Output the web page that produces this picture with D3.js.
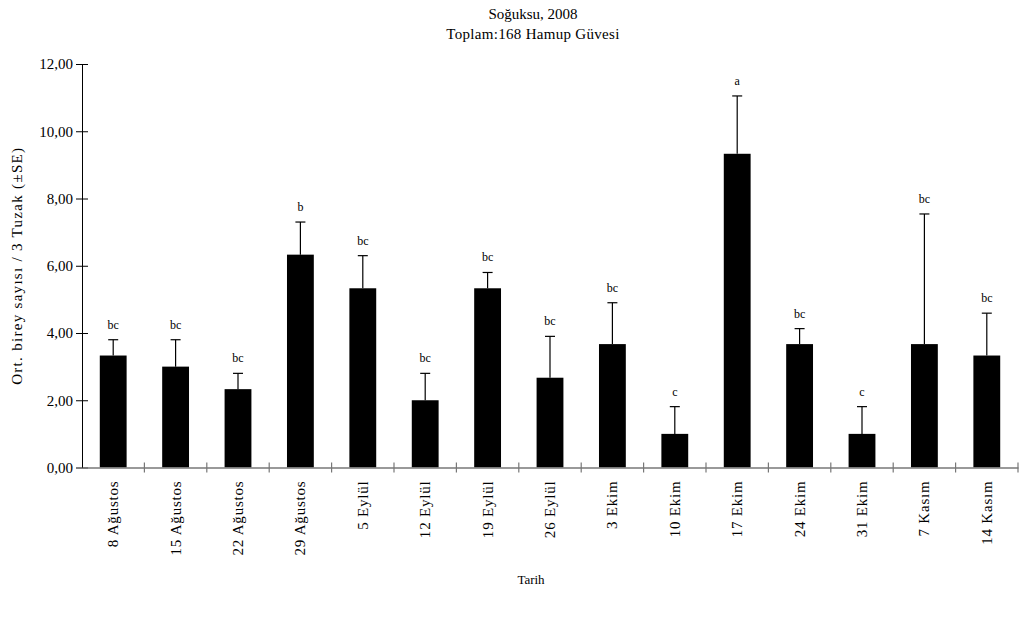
<!DOCTYPE html>
<html>
<head>
<meta charset="utf-8">
<script src="https://cdn.jsdelivr.net/npm/d3@7"></script>
<style>
  html, body { margin: 0; padding: 0; background: #fff; }
  svg text { font-family: "Liberation Serif", "Times New Roman", serif; fill: #000; }
</style>
</head>
<body>
<svg id="chart" width="1023" height="622"></svg>
<script>
// Sampling dates (weekly trap checks)
const dates = ["8 Ağustos", "15 Ağustos", "22 Ağustos", "29 Ağustos", "5 Eylül", "12 Eylül",
  "19 Eylül", "26 Eylül", "3 Ekim", "10 Ekim", "17 Ekim", "24 Ekim", "31 Ekim", "7 Kasım", "14 Kasım"];
// Mean individuals per 3 traps
const means = [3.33, 3.00, 2.33, 6.33, 5.33, 2.00, 5.33, 2.67, 3.67, 1.00, 9.33, 3.67, 1.00, 3.67, 3.33];
// Standard error
const se = [0.47, 0.80, 0.47, 0.97, 0.97, 0.80, 0.47, 1.23, 1.23, 0.81, 1.72, 0.46, 0.81, 3.87, 1.26];
// Significance groups
const groups = ["bc", "bc", "bc", "b", "bc", "bc", "bc", "bc", "bc", "c", "a", "bc", "c", "bc", "bc"];
const yTicks = [0, 2, 4, 6, 8, 10, 12];

const svg = d3.select("#chart");
const m = { left: 82, right: 1018, top: 64, bottom: 467.5 };

const x = d3.scaleBand().domain(dates).range([m.left, m.right]).paddingInner(0.57).paddingOuter(0.285);
const xb = d3.scaleBand().domain(dates).range([m.left, m.right]).padding(0);
const y = d3.scaleLinear().domain([0, 12]).range([m.bottom, m.top]);

const fmt = d => d.toFixed(2).replace(".", ",");

// Bars
svg.append("g").selectAll("rect").data(dates).join("rect")
  .attr("x", d => x(d))
  .attr("width", x.bandwidth())
  .attr("y", (d, i) => y(means[i]))
  .attr("height", (d, i) => y(0) - y(means[i]))
  .attr("fill", "#000");

// Error bars (upper only)
const eb = svg.append("g").attr("stroke", "#000").attr("stroke-width", 1.2);
dates.forEach((d, i) => {
  const cx = x(d) + x.bandwidth() / 2;
  eb.append("line").attr("x1", cx).attr("x2", cx).attr("y1", y(means[i])).attr("y2", y(means[i] + se[i]));
  eb.append("line").attr("x1", cx - 5).attr("x2", cx + 5).attr("y1", y(means[i] + se[i])).attr("y2", y(means[i] + se[i]));
});

// Group letters
svg.append("g").selectAll("text").data(dates).join("text")
  .attr("x", d => x(d) + x.bandwidth() / 2)
  .attr("y", (d, i) => y(means[i] + se[i]) - 11)
  .attr("text-anchor", "middle")
  .style("font-size", "12px")
  .text((d, i) => groups[i]);

// Y axis
const yAxis = svg.append("g").attr("transform", `translate(${m.left},0)`)
  .call(d3.axisLeft(y).tickValues(yTicks).tickFormat(fmt).tickSizeInner(6).tickSizeOuter(0));
yAxis.select(".domain").attr("stroke", "#000");
yAxis.selectAll(".tick line").attr("x1", -6).attr("x2", 6).attr("stroke", "#000");
yAxis.selectAll(".tick text").attr("x", -9).style("font-size", "15px").style("font-family", "Liberation Serif");

// X axis
const xAxis = svg.append("g").attr("transform", `translate(0,${m.bottom})`)
  .call(d3.axisBottom(xb).tickSize(0).tickFormat(""));
xAxis.select(".domain").attr("stroke", "#777").attr("stroke-width", 1.5);
const bounds = dates.map(d => xb(d)).concat([m.right]).slice(1);
xAxis.selectAll(".sep").data(bounds).join("line").attr("class", "sep")
  .attr("x1", d => d).attr("x2", d => d).attr("y1", -5).attr("y2", 5)
  .attr("stroke", "#777").attr("stroke-width", 1.2);
xAxis.selectAll(".lab").data(dates).join("text").attr("class", "lab")
  .attr("transform", d => `translate(${xb(d) + xb.bandwidth() / 2 + 5},13) rotate(-90)`)
  .attr("text-anchor", "end")
  .style("font-size", "15px")
  .style("letter-spacing", "0.8px")
  .text(d => d);

// Titles
svg.append("text").attr("x", 533).attr("y", 19).attr("text-anchor", "middle")
  .style("font-size", "15px").text("Soğuksu, 2008");
svg.append("text").attr("x", 533).attr("y", 39).attr("text-anchor", "middle")
  .style("font-size", "15px").style("letter-spacing", "0.3px").text("Toplam:168 Hamup Güvesi");

// Axis titles
svg.append("text").attr("transform", `translate(22,${(m.top + m.bottom) / 2}) rotate(-90)`)
  .attr("text-anchor", "middle").style("font-size", "15px").style("letter-spacing", "1.3px")
  .text("Ort. birey sayısı / 3 Tuzak (±SE)");
svg.append("text").attr("x", 531).attr("y", 584).attr("text-anchor", "middle")
  .style("font-size", "13px").text("Tarih");
</script>
</body>
</html>
